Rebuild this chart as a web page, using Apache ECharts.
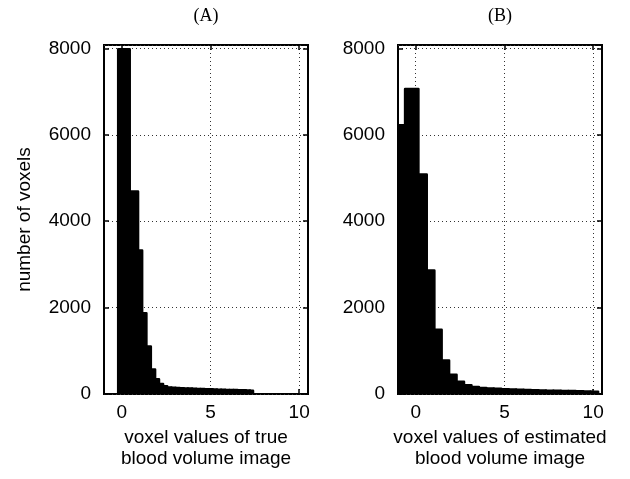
<!DOCTYPE html>
<html>
<head>
<meta charset="utf-8">
<script src="https://cdn.jsdelivr.net/npm/echarts@6/dist/echarts.min.js"></script>
<style>
  html, body { margin: 0; padding: 0; background: #fff; }
  #main { width: 630px; height: 479px; }
</style>
</head>
<body>
<div id="main"></div>
<script>
// bin edges (n+1) and counts (n)
const edgesA = [-0.2, 0.45, 0.92, 1.15, 1.39, 1.64, 1.88, 2.1, 2.33, 2.56, 2.8, 3.03, 3.27, 3.5, 3.73,
  3.97, 4.2, 4.43, 4.67, 4.9, 5.13, 5.37, 5.6, 5.83, 6.07, 6.3, 6.53, 6.77, 7.0, 7.23, 7.4];
const countsA = [7980, 4690, 3320, 1870, 1100, 570, 340, 230, 180, 150, 145, 140, 135, 130, 125,
  122, 118, 115, 112, 108, 105, 100, 98, 95, 92, 90, 88, 85, 82, 78];

const edgesB = [-1.0, -0.6, 0.15, 0.62, 1.05, 1.46, 1.88, 2.3, 2.72, 3.14, 3.56, 3.98, 4.4, 4.82,
  5.24, 5.66, 6.08, 6.5, 6.92, 7.34, 7.76, 8.18, 8.6, 9.02, 9.44, 9.86, 10.28];
const countsB = [6220, 7060, 5080, 2860, 1490, 775, 445, 285, 200, 160, 140, 130, 120, 110, 105,
  98, 92, 86, 82, 78, 74, 70, 67, 64, 60, 50];

const xTicks = [0, 5, 10];
const yMax = 8080;
const panelTitles = ['(A)', '(B)'];
const xNames = ['voxel values of true\nblood volume image', 'voxel values of estimated\nblood volume image'];
const yName = 'number of voxels';

const toBins = (edges, counts) => counts.map((c, i) => [edges[i], edges[i + 1], c]);

const font = 'Liberation Sans, Arial, sans-serif';
const gridLine = { show: true, lineStyle: { type: [1, 3], color: '#333', width: 1 } };
const tickStyle = { color: '#000', width: 1.5 };

const renderBar = (params, api) => {
  const p0 = api.coord([api.value(0), 0]);
  const p1 = api.coord([api.value(1), api.value(2)]);
  return {
    type: 'rect',
    shape: { x: p0[0], y: p1[1], width: p1[0] - p0[0], height: p0[1] - p1[1] },
    style: { fill: '#000', stroke: '#000', lineWidth: 2.5, lineJoin: 'round' },
  };
};

const xAxisFor = (gridIndex, name) => ([
  {
    type: 'value',
    gridIndex: gridIndex,
    min: -1,
    max: 10.5,
    name: name,
    nameLocation: 'middle',
    nameGap: 29,
    nameTextStyle: { fontFamily: font, fontSize: 19, color: '#000', lineHeight: 21 },
    axisLine: { show: false, onZero: false },
    axisTick: { show: true, inside: true, length: 5, customValues: xTicks, lineStyle: tickStyle },
    axisLabel: { customValues: xTicks, fontFamily: font, fontSize: 19, color: '#000', margin: 9 },
    splitLine: gridLine,
  },
  {
    // top side ticks only
    type: 'value',
    gridIndex: gridIndex,
    position: 'top',
    min: -1,
    max: 10.5,
    axisLine: { show: false, onZero: false },
    axisTick: { show: true, inside: true, length: 5, customValues: xTicks, lineStyle: tickStyle },
    axisLabel: { show: false },
    splitLine: { show: false },
  },
]);

const yAxisFor = (gridIndex, name) => ([
  {
    type: 'value',
    gridIndex: gridIndex,
    min: 0,
    max: yMax,
    interval: 2000,
    name: name,
    nameLocation: 'middle',
    nameGap: 70,
    nameTextStyle: { fontFamily: font, fontSize: 19, color: '#000' },
    axisLine: { show: false, onZero: false },
    axisTick: { show: true, inside: true, length: 5, lineStyle: tickStyle },
    axisLabel: { showMaxLabel: false, formatter: v => String(v), fontFamily: font, fontSize: 19, color: '#000', margin: 13 },
    splitLine: gridLine,
  },
  {
    // right side ticks only
    type: 'value',
    gridIndex: gridIndex,
    position: 'right',
    min: 0,
    max: yMax,
    interval: 2000,
    axisLine: { show: false, onZero: false },
    axisTick: { show: true, inside: true, length: 5, lineStyle: tickStyle },
    axisLabel: { show: false },
    splitLine: { show: false },
  },
]);

const chart = echarts.init(document.getElementById('main'), null, { renderer: 'canvas' });

chart.setOption({
  animation: false,
  backgroundColor: '#fff',
  grid: [
    { left: 104, right: 322, top: 45, bottom: 85, show: true, borderColor: '#000', borderWidth: 2 },
    { left: 398, right: 28, top: 45, bottom: 85, show: true, borderColor: '#000', borderWidth: 2 },
  ],
  xAxis: [...xAxisFor(0, xNames[0]), ...xAxisFor(1, xNames[1])],
  yAxis: [...yAxisFor(0, yName), ...yAxisFor(1, '')],
  graphic: [
    { type: 'text', x: 206, y: 7, style: { text: panelTitles[0], font: '18px Liberation Serif, Times New Roman, serif', fill: '#000', textAlign: 'center' } },
    { type: 'text', x: 500, y: 7, style: { text: panelTitles[1], font: '18px Liberation Serif, Times New Roman, serif', fill: '#000', textAlign: 'center' } },
  ],
  series: [
    {
      type: 'custom',
      xAxisIndex: 0,
      yAxisIndex: 0,
      renderItem: renderBar,
      encode: { x: [0, 1], y: 2 },
      data: toBins(edgesA, countsA),
      clip: true,
    },
    {
      type: 'custom',
      xAxisIndex: 2,
      yAxisIndex: 2,
      renderItem: renderBar,
      encode: { x: [0, 1], y: 2 },
      data: toBins(edgesB, countsB),
      clip: true,
    },
  ],
});
</script>
</body>
</html>
